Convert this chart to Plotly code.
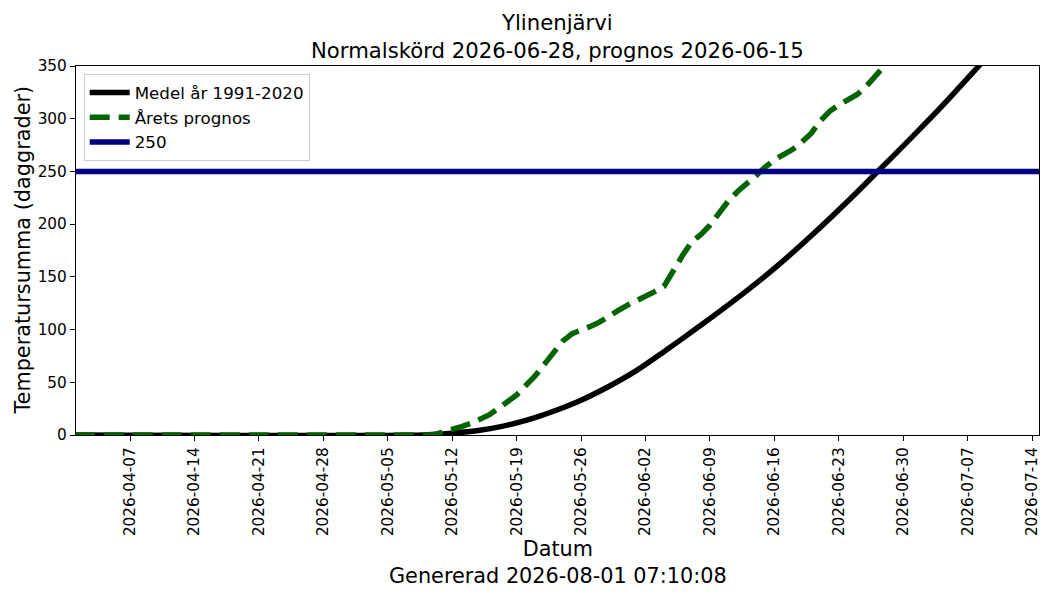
import plotly.graph_objects as go
import pandas as pd

# mean temperature sum 1991-2020
mean_dates = ["2026-04-01", "2026-05-09", "2026-05-11", "2026-05-13", "2026-05-15",
              "2026-05-17", "2026-05-19", "2026-05-21", "2026-05-23", "2026-05-26",
              "2026-05-29", "2026-06-01", "2026-06-04", "2026-06-08", "2026-06-12",
              "2026-06-16", "2026-06-20", "2026-06-24", "2026-06-27", "2026-07-01",
              "2026-07-04", "2026-07-08", "2026-07-11"]
mean_values = [0, 0, 1, 2.5, 4.5, 7.5, 11.5, 16.5, 22.5, 33, 46, 61, 79, 104, 130,
               158, 189, 222, 248, 283, 310, 348, 377]

# this year's forecast, daily from 2026-04-01
forecast_start = "2026-04-01"
forecast_values = [0] * 39 + [
    0, 3, 5, 8, 11, 15, 19, 25, 31, 38,
    47, 56, 67, 78, 89, 96, 99, 103, 107, 113,
    118, 123, 127, 131, 136, 141, 156, 170, 183, 190,
    199, 211, 222, 231, 238, 246, 254, 261, 266, 271,
    278, 286, 298, 307, 313, 318, 323, 331, 340, 349,
    360,
]
forecast_dates = pd.date_range(forecast_start, periods=len(forecast_values), freq="D")

threshold = 250
x_range = ["2026-04-01 03:00", "2026-07-14 18:00"]
y_ticks = [0, 50, 100, 150, 200, 250, 300, 350]

title_text = "Ylinenjärvi<br>Normalskörd 2026-06-28, prognos 2026-06-15"
x_label = "Datum<br>Genererad 2026-08-01 07:10:08"
y_label = "Temperatursumma (daggrader)"

font_family = "DejaVu Sans, sans-serif"

fig = go.Figure()
fig.add_trace(go.Scatter(
    x=mean_dates, y=mean_values, mode="lines", name="Medel år 1991-2020",
    line=dict(color="black", width=5.5, shape="spline", smoothing=0.8)))
fig.add_trace(go.Scatter(
    x=forecast_dates, y=forecast_values, mode="lines", name="Årets prognos",
    line=dict(color="#006400", width=5.5, dash="20px,9px")))
fig.add_trace(go.Scatter(
    x=x_range, y=[threshold, threshold], mode="lines", name=str(threshold),
    line=dict(color="#000080", width=5.5)))

fig.update_layout(
    width=1050, height=600,
    margin=dict(l=76, r=11, t=66, b=165, autoexpand=False),
    paper_bgcolor="white", plot_bgcolor="white",
    font=dict(family=font_family, color="black", size=15.3),
    legend=dict(x=0.008, y=0.978, xanchor="left", yanchor="top",
                bgcolor="rgba(255,255,255,0.8)", bordercolor="#cccccc",
                borderwidth=1, font=dict(size=16.7, family=font_family),
                tracegroupgap=0, itemwidth=40),
    showlegend=True,
    xaxis=dict(range=x_range, type="date", tick0="2026-04-07", dtick=7 * 86400000,
               tickformat="%Y-%m-%d", tickangle=-90, ticks="outside", ticklen=5,
               tickcolor="black", showgrid=False, zeroline=False,
               showline=True, linecolor="black", linewidth=1.2, mirror=True,
               tickfont=dict(size=15.3)),
    yaxis=dict(range=[0, 350], tickvals=y_ticks, ticks="outside", ticklen=5,
               tickcolor="black", showgrid=False, zeroline=False,
               showline=True, linecolor="black", linewidth=1.2, mirror=True,
               tickfont=dict(size=15.3)),
    annotations=[
        dict(text=title_text, xref="paper", yref="paper", x=0.5, y=1,
             xanchor="center", yanchor="bottom", yshift=1, showarrow=False,
             font=dict(size=21.2, family=font_family)),
        dict(text=x_label, xref="paper", yref="paper", x=0.5, y=-0.3455,
             xanchor="center", yanchor="middle", showarrow=False,
             font=dict(size=20.8, family=font_family)),
        dict(text=y_label, xref="paper", yref="paper", x=-0.056, y=0.5,
             xanchor="center", yanchor="middle", textangle=-90, showarrow=False,
             font=dict(size=20.8, family=font_family)),
    ],
)

fig.write_html("out.html", config={"displayModeBar": False},
               post_script="document.body.style.margin='0';")
